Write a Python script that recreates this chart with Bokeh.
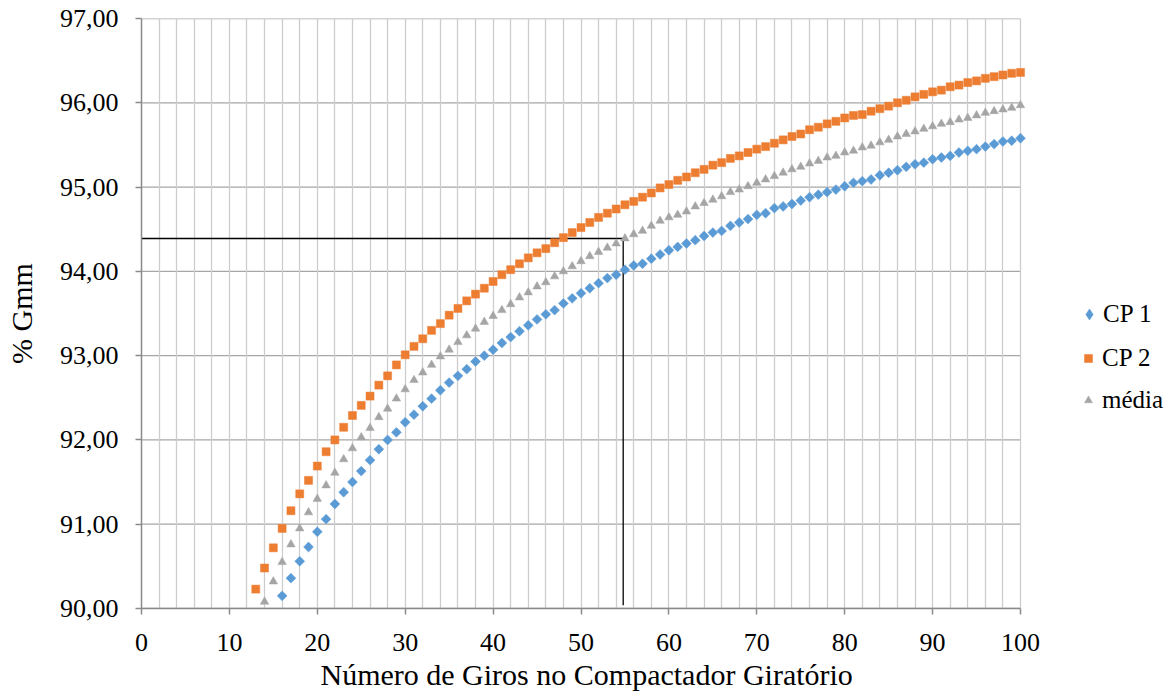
from bokeh.plotting import figure
from bokeh.models import FixedTicker, Legend, LegendItem, Title
from bokeh.embed import file_html
from bokeh.resources import INLINE

# ---------------- data ----------------
cp1_x = list(range(16, 101))
cp1_y = [90.15, 90.36, 90.56, 90.73, 90.91, 91.06, 91.24, 91.38, 91.50, 91.63,
         91.76, 91.89, 92.00, 92.09, 92.21, 92.30, 92.40, 92.49, 92.59, 92.68,
         92.76, 92.84, 92.93, 93.00,
         93.07, 93.15, 93.22, 93.29, 93.36, 93.43, 93.49, 93.54, 93.62, 93.68,
         93.74, 93.80, 93.86, 93.92, 93.96, 94.02, 94.07, 94.09,
         94.15, 94.20, 94.25, 94.29, 94.33, 94.37, 94.42, 94.46, 94.48, 94.54,
         94.58, 94.62, 94.67, 94.69, 94.75, 94.77, 94.80, 94.84, 94.88, 94.91,
         94.94, 94.97, 95.01, 95.05,
         95.07, 95.09, 95.14, 95.17, 95.20, 95.24, 95.27, 95.29, 95.33, 95.35,
         95.37, 95.41, 95.43, 95.45, 95.48, 95.51, 95.54, 95.55, 95.58]

cp2_x = list(range(13, 101))
cp2_y = [90.23, 90.48, 90.72, 90.95, 91.16, 91.36, 91.52, 91.69, 91.86, 92.00,
         92.15, 92.29, 92.41, 92.52, 92.65, 92.76, 92.89, 93.01, 93.11, 93.20,
         93.30, 93.38,
         93.48, 93.56, 93.65, 93.73, 93.80, 93.88, 93.96, 94.02, 94.09, 94.16,
         94.22, 94.27, 94.34, 94.40, 94.46, 94.52, 94.58, 94.64, 94.69, 94.74,
         94.79, 94.83, 94.88,
         94.93, 94.99, 95.03, 95.08, 95.12, 95.17, 95.21, 95.26, 95.29, 95.34,
         95.37, 95.41, 95.45, 95.48, 95.52, 95.56, 95.60, 95.63, 95.68, 95.71,
         95.75, 95.78, 95.82, 95.85,
         95.86, 95.90, 95.93, 95.96, 96.00, 96.03, 96.07, 96.10, 96.13, 96.15,
         96.19, 96.21, 96.24, 96.26, 96.29, 96.31, 96.33, 96.35, 96.36]

media_x = list(range(14, 101))
media_y = [90.08, 90.32, 90.55, 90.76, 90.95, 91.14, 91.30, 91.46, 91.61, 91.77,
           91.90, 92.03, 92.14, 92.27, 92.37, 92.49, 92.60, 92.71, 92.80, 92.89,
           92.99, 93.07, 93.16, 93.24, 93.32, 93.40,
           93.47, 93.54, 93.61, 93.69, 93.75, 93.82, 93.87, 93.94, 94.00, 94.06,
           94.12, 94.18, 94.23, 94.28, 94.33, 94.39, 94.44, 94.48,
           94.54, 94.60, 94.64, 94.67, 94.71, 94.77, 94.81, 94.85, 94.89, 94.94,
           94.97, 95.01, 95.05, 95.09, 95.13, 95.17, 95.21, 95.24, 95.28, 95.31,
           95.35, 95.37, 95.41, 95.43,
           95.47, 95.49, 95.53, 95.56, 95.60, 95.63, 95.66, 95.69, 95.72, 95.75,
           95.77, 95.80, 95.82, 95.85, 95.88, 95.90, 95.92, 95.94, 95.97]

series_names = ["CP 1", "CP 2", "média"]

x_min, x_max = 0, 100
y_min, y_max = 90, 97
x_ticks = [0, 10, 20, 30, 40, 50, 60, 70, 80, 90, 100]
x_tick_labels = ["0", "10", "20", "30", "40", "50", "60", "70", "80", "90", "100"]
x_grid_ticks = list(range(0, 101, 2))
y_ticks = [90, 91, 92, 93, 94, 95, 96, 97]
y_tick_labels = ["90,00", "91,00", "92,00", "93,00", "94,00", "95,00", "96,00", "97,00"]

ref_line_x = [0, 54.8, 54.8]
ref_line_y = [94.39, 94.39, 90.04]

x_title = "Número de Giros no Compactador Giratório"
y_title = "% Gmm"

# ---------------- layout ----------------
FONT = "Liberation Serif"
W, H = 1175, 696
LEFT, TOP, BOTTOM = 141, 18, 88
PLOT_RIGHT_PX = 1020           # pixel where x = 100 falls
frame_w = W - LEFT
x_view_end = x_max * frame_w / (PLOT_RIGHT_PX - LEFT)   # extra room on the right for the legend

p = figure(width=W, height=H, x_range=(x_min, x_view_end), y_range=(y_min, y_max),
           output_backend="svg", toolbar_location=None,
           min_border_left=LEFT, min_border_right=0,
           min_border_top=TOP, min_border_bottom=BOTTOM)
p.outline_line_color = None
p.background_fill_color = "white"
p.border_fill_color = "white"

# vertical grid (every 2)
p.xgrid.ticker = FixedTicker(ticks=x_grid_ticks)
p.xgrid.bounds = (x_min, x_max)
p.xgrid.grid_line_color = "#CDCDCD"
p.xgrid.grid_line_width = 1.3
# horizontal grid drawn only over the plotted x range
p.ygrid.visible = False
p.segment(x0=[x_min] * len(y_ticks), y0=y_ticks, x1=[x_max] * len(y_ticks), y1=y_ticks,
          line_color="#A6A6A6", line_width=1.3, level="underlay")

# axes
p.xaxis.ticker = FixedTicker(ticks=x_ticks)
p.xaxis.bounds = (x_min, x_max)
p.xaxis.major_label_overrides = {t: l for t, l in zip(x_ticks, x_tick_labels)}
p.yaxis.ticker = FixedTicker(ticks=y_ticks)
p.yaxis.major_label_overrides = {t: l for t, l in zip(y_ticks, y_tick_labels)}
for ax in (p.xaxis, p.yaxis):
    ax.axis_line_color = "#8A8A8A"
    ax.axis_line_width = 1.5
    ax.major_tick_line_color = "#8A8A8A"
    ax.major_tick_line_width = 1.5
    ax.major_tick_out = 6
    ax.major_tick_in = 0
    ax.minor_tick_line_color = None
    ax.major_label_text_font = FONT
    ax.major_label_text_font_size = "26px"
    ax.major_label_text_color = "black"
    ax.axis_label_text_font = FONT
    ax.axis_label_text_font_size = "30px"
    ax.axis_label_text_font_style = "normal"
    ax.axis_label_text_color = "black"

p.yaxis.axis_label = y_title
p.xaxis.major_label_standoff = 19
p.yaxis.major_label_standoff = 17
p.yaxis.axis_label_standoff = 19

# x-axis title, centred over the 0-100 span (not over the legend area)
p.add_layout(Title(text=x_title, align="left", offset=179, standoff=4,
                   text_font=FONT, text_font_size="30px", text_font_style="normal",
                   text_color="black"), "below")

# reference lines
p.line(ref_line_x, ref_line_y, line_color="black", line_width=1.3)

# series
r1 = p.scatter(cp1_x, cp1_y, marker="square", angle=0.785398, size=7,
               fill_color="#5B9BD5", line_color="#5B9BD5", line_width=0.5,
               level="overlay")
r2 = p.scatter(cp2_x, cp2_y, marker="square", size=8,
               fill_color="#ED7D31", line_color="#ED7D31", line_width=0.5,
               level="overlay")
r3 = p.scatter(media_x, media_y, marker="triangle", size=8.5,
               fill_color="#A5A5A5", line_color="#A5A5A5", line_width=0.5,
               level="overlay")
# legend-only glyph for CP 1 (legend markers are never rotated)
r1_key = p.scatter(cp1_x, cp1_y, marker="diamond", size=12,
                   fill_color="#5B9BD5", line_color="#5B9BD5", line_width=0.5,
                   visible=False)

legend_style = dict(orientation="vertical", padding=0, margin=0,
                    label_text_font=FONT, label_text_font_size="25px",
                    label_text_color="black", border_line_color=None,
                    background_fill_alpha=0, inactive_fill_alpha=0)

legend1 = Legend(items=[LegendItem(label=series_names[0], renderers=[r1_key])],
                 location=(934, 280), glyph_width=28, glyph_height=28,
                 label_height=20, label_standoff=0, spacing=0, **legend_style)
legend2 = Legend(items=[LegendItem(label=series_names[1], renderers=[r2]),
                        LegendItem(label=series_names[2], renderers=[r3])],
                 location=(937, 194), glyph_width=20, glyph_height=20,
                 label_height=20, label_standoff=4, spacing=14, **legend_style)
p.add_layout(legend1)
p.add_layout(legend2)

open("out.html", "w").write(file_html(p, INLINE))
